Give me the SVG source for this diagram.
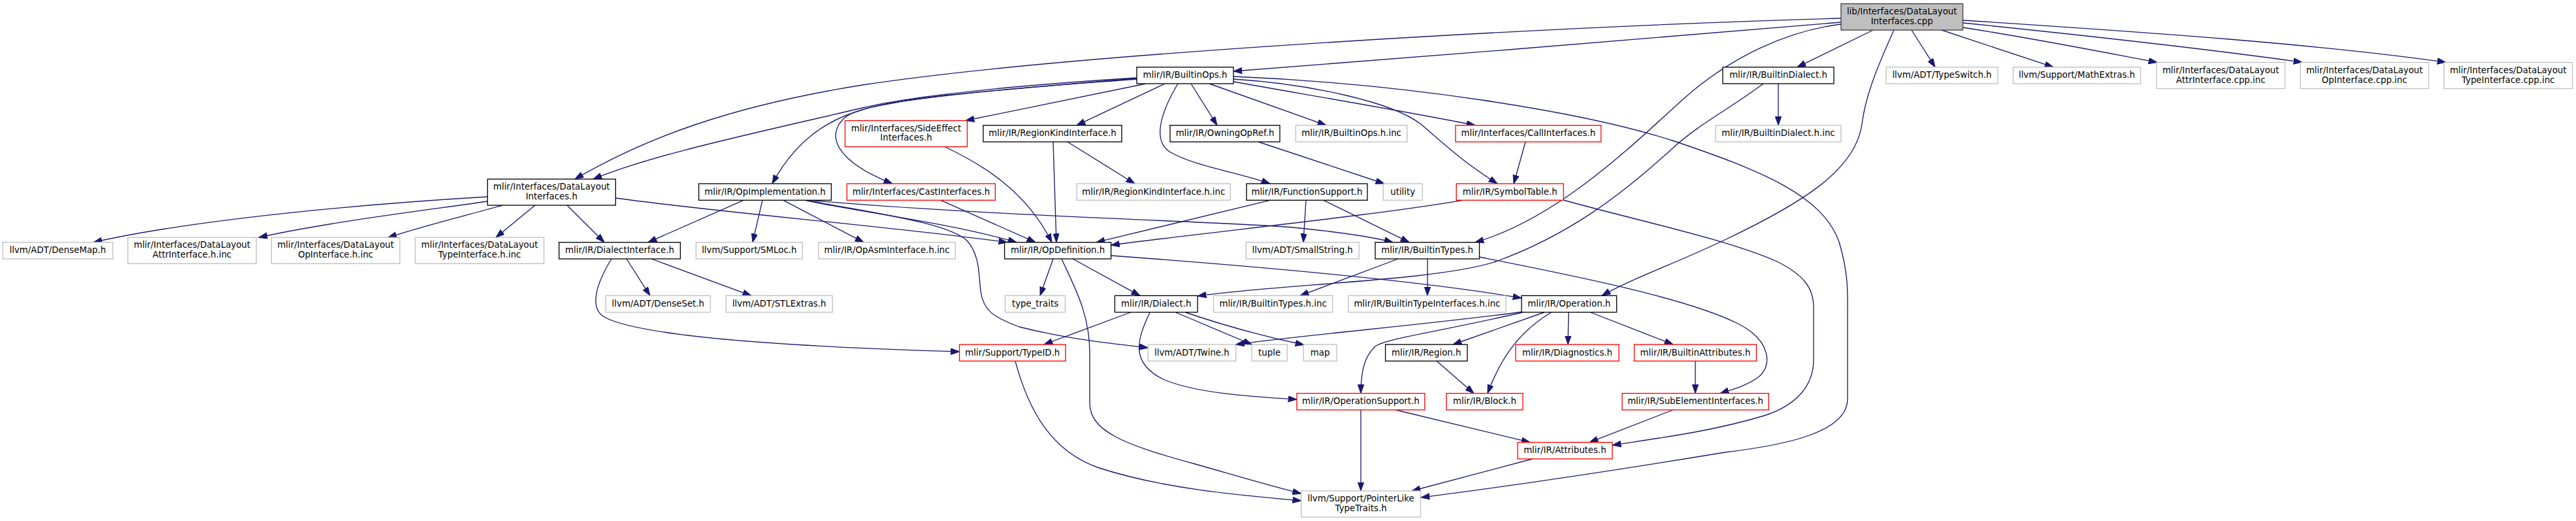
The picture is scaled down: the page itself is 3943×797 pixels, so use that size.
<svg xmlns="http://www.w3.org/2000/svg" width="3943" height="797" viewBox="0 0 3943 797">
<style>
rect{fill:#fff;stroke:#000;stroke-width:1.33}
.g rect{stroke:#bfbfbf}
.r rect{stroke:#f00}
.root rect{fill:#bfbfbf;stroke:#404040}
text{font-family:"DejaVu Sans","Liberation Sans",sans-serif;font-size:13.33px;text-anchor:middle;fill:#000}
.e path{fill:none;stroke:#191970;stroke-width:1.33;marker-end:url(#a)}
</style>
<defs>
<marker id="a" markerUnits="userSpaceOnUse" markerWidth="14" markerHeight="10" refX="13.3" refY="4.7" orient="auto">
<path d="M0,0 L13.3,4.7 L0,9.4 Z" fill="#191970" stroke="#191970" stroke-width="1"/>
</marker>
</defs>
<rect x="0" y="0" width="3943" height="797" style="fill:#fff;stroke:none"/>
<g id="edges" class="e">
<path d="M2818,28 C2400,40 1650,80 1320,130 C1120,162 990,210 880,274"/>
<path d="M2818,34 C2600,52 2150,90 1888,109"/>
<path d="M2818,37 C2730,48 2650,90 2590,140 C2530,190 2400,330 2258,370.7"/>
<path d="M2867,46 L2751,102.7"/>
<path d="M2899,46 C2870,110 2855,150 2850,190 C2840,260 2760,310 2640,367 C2560,405 2500,425 2452,452.3"/>
<path d="M2926,46 L2962,102.7"/>
<path d="M2972,46 L3143,102.7"/>
<path d="M3004.5,42 C3120,60 3220,80 3302,95.5"/>
<path d="M3004.5,35 C3200,55 3400,78 3524,95.3"/>
<path d="M3004.5,31 C3300,50 3550,68 3744,95.3"/>
<path d="M1740,119 C1550,131 1400,146 1320,165 C1150,205 1000,236 908,274"/>
<path d="M1740,120 C1530,137 1380,150 1320,168 C1260,185 1215,220 1182,281"/>
<path d="M1740,121 C1520,138 1330,150 1293,180 C1265,205 1275,245 1366,281"/>
<path d="M1754,128 L1478,184.5"/>
<path d="M1783,128 L1648,191.7"/>
<path d="M1803,128 C1775,175 1765,215 1790,232 C1830,255 1890,262 1944,281"/>
<path d="M1823,128 L1863,191.7"/>
<path d="M1851,128 L2030,191.7"/>
<path d="M1888,125 C2000,145 2150,170 2258,191.7"/>
<path d="M1888,121 C2000,128 2130,155 2175,190 C2205,215 2235,245 2292,281"/>
<path d="M1888,117 C2150,128 2420,170 2560,215 C2700,262 2790,300 2815,370 C2830,420 2828,450 2828,480 L2828,610 C2828,660 2740,680 2640,692 C2470,720 2300,745 2175,761"/>
<path d="M2722,128 L2722,191.7"/>
<path d="M2699,128 C2650,165 2600,190 2560,227 C2480,300 2400,360 2290,400 C2200,430 1950,435 1833,453"/>
<path d="M746,301 C560,312 300,335 143,370.7"/>
<path d="M746,308 C650,322 500,340 396,363.3"/>
<path d="M769,314 C720,328 650,345 594,363.3"/>
<path d="M819,314 L759,363.3"/>
<path d="M868,314 L925,370.7"/>
<path d="M943,303 C1100,325 1350,345 1542,370.7"/>
<path d="M1138,306.3 L992,370.7"/>
<path d="M1167,306.3 L1152,370.7"/>
<path d="M1199,306.3 L1322,370.7"/>
<path d="M1232,306.3 C1300,322 1450,340 1556,370.7"/>
<path d="M1235,306.3 C1330,325 1450,340 1480,368 C1500,390 1498,420 1501,445 C1505,475 1520,485 1560,500 C1640,520 1700,525 1757.3,532"/>
<path d="M1240,306.3 C1500,330 1900,340 1980,348 C2050,355 2100,362 2132,370.7"/>
<path d="M1440,306.3 L1585,370.7"/>
<path d="M1446,224.5 C1500,250 1570,290 1610,370.7"/>
<path d="M1612,217 L1617,370.7"/>
<path d="M1634,217 L1737,281"/>
<path d="M1926,217 L2119,281"/>
<path d="M1944,306.3 L1678,370.7"/>
<path d="M1999,306.3 L1995,370.7"/>
<path d="M2026,306.3 L2157,370.7"/>
<path d="M2335,217 L2317,281"/>
<path d="M2239,306.3 C2100,330 1850,355 1700.5,375"/>
<path d="M2393,306 C2500,336 2640,365 2720,400 C2760,420 2776,440 2776,470 L2776,550 C2776,590 2750,620 2700,636 C2620,660 2540,670 2468,681"/>
<path d="M2140,396 L1990,452.3"/>
<path d="M2185,396 L2185,452.3"/>
<path d="M2264,393 C2400,420 2580,455 2660,495 C2710,520 2715,560 2690,578 C2670,592 2650,596 2633,601.7"/>
<path d="M1612,396 L1592,452.3"/>
<path d="M1642,396 L1745,452.3"/>
<path d="M1625,396 C1645,440 1668,480 1668,540 L1668,616 C1668,660 1720,680 1830,710 C1900,730 1950,745 1991.8,755"/>
<path d="M1700.5,391 C1850,402 2150,425 2329,456"/>
<path d="M1730,478 L1598,527"/>
<path d="M1760,478 C1740,520 1730,555 1780,580 C1830,602 1920,607 1985,611"/>
<path d="M1800,478 L1916,527"/>
<path d="M1815,478 C1880,500 1950,518 1996,527.5"/>
<path d="M2330,477 C2200,495 2000,512 1891.6,527"/>
<path d="M2363,478 L2224,527"/>
<path d="M2374,478 C2330,505 2300,540 2277,601.7"/>
<path d="M2401,478 L2400,527"/>
<path d="M2435,478 L2561,527"/>
<path d="M2330,478 C2200,508 2120,518 2105,530 C2088,545 2083,570 2083,601.7"/>
<path d="M2199,552.3 L2256,601.7"/>
<path d="M2595,552.3 L2595,601.7"/>
<path d="M2561,627 L2433,676.7"/>
<path d="M2136,627 L2342,676.7"/>
<path d="M2083,627 L2083,751"/>
<path d="M2346,702 L2161,751"/>
<path d="M1554,552.3 C1575,630 1610,690 1680,715 C1780,748 1900,758 1991.8,766"/>
<path d="M936,396 C915,430 900,470 925,485 C980,515 1200,530 1468.6,538"/>
<path d="M959,396 L995,452.3"/>
<path d="M997,396 L1150,452.3"/>
</g>
<g id="n-root" class="root"><rect x="2818" y="5.7" width="186.5" height="40.3"/><text x="2911.2" y="21.8">lib/Interfaces/DataLayout</text><text x="2911.2" y="36.7">Interfaces.cpp</text></g>
<g id="n-builtinops"><rect x="1740" y="102.7" width="148" height="25.3"/><text x="1814" y="119.4">mlir/IR/BuiltinOps.h</text></g>
<g id="n-builtindialect"><rect x="2637" y="102.7" width="170" height="25.3"/><text x="2722" y="119.4">mlir/IR/BuiltinDialect.h</text></g>
<g id="n-typeswitch" class="g"><rect x="2887" y="102.7" width="171" height="25.3"/><text x="2972.5" y="119.4">llvm/ADT/TypeSwitch.h</text></g>
<g id="n-mathextras" class="g"><rect x="3081.5" y="102.7" width="195" height="25.3"/><text x="3179" y="119.4">llvm/Support/MathExtras.h</text></g>
<g id="n-attrcppinc" class="g"><rect x="3301" y="95.5" width="196.5" height="40"/><text x="3399.2" y="111.8">mlir/Interfaces/DataLayout</text><text x="3399.2" y="126.5">AttrInterface.cpp.inc</text></g>
<g id="n-opcppinc" class="g"><rect x="3521" y="95.5" width="196.5" height="40"/><text x="3619.2" y="111.8">mlir/Interfaces/DataLayout</text><text x="3619.2" y="126.5">OpInterface.cpp.inc</text></g>
<g id="n-typecppinc" class="g"><rect x="3741" y="95.5" width="196.5" height="40"/><text x="3839.2" y="111.8">mlir/Interfaces/DataLayout</text><text x="3839.2" y="126.5">TypeInterface.cpp.inc</text></g>
<g id="n-sideeffect" class="r"><rect x="1293.5" y="184.5" width="187" height="40"/><text x="1387" y="200.5">mlir/Interfaces/SideEffect</text><text x="1387" y="215.3">Interfaces.h</text></g>
<g id="n-regionkind"><rect x="1505" y="191.7" width="212" height="25.3"/><text x="1611" y="208.4">mlir/IR/RegionKindInterface.h</text></g>
<g id="n-owningopref"><rect x="1791" y="191.7" width="168" height="25.3"/><text x="1875" y="208.4">mlir/IR/OwningOpRef.h</text></g>
<g id="n-builtinopsinc" class="g"><rect x="1983.4" y="191.7" width="170.4" height="25.3"/><text x="2068.6" y="208.4">mlir/IR/BuiltinOps.h.inc</text></g>
<g id="n-callinterfaces" class="r"><rect x="2228" y="191.7" width="222.6" height="25.3"/><text x="2339.3" y="208.4">mlir/Interfaces/CallInterfaces.h</text></g>
<g id="n-builtindialectinc" class="g"><rect x="2626" y="191.7" width="192" height="25.3"/><text x="2722" y="208.4">mlir/IR/BuiltinDialect.h.inc</text></g>
<g id="n-datalayoutinterfaces"><rect x="746.3" y="274" width="196" height="40"/><text x="844.3" y="290">mlir/Interfaces/DataLayout</text><text x="844.3" y="305">Interfaces.h</text></g>
<g id="n-opimplementation"><rect x="1069.6" y="281" width="202.8" height="25.3"/><text x="1171" y="297.7">mlir/IR/OpImplementation.h</text></g>
<g id="n-castinterfaces" class="r"><rect x="1296.4" y="281" width="227" height="25.3"/><text x="1409.9" y="297.7">mlir/Interfaces/CastInterfaces.h</text></g>
<g id="n-regionkindinc" class="g"><rect x="1648.3" y="281" width="235" height="25.3"/><text x="1765.8" y="297.7">mlir/IR/RegionKindInterface.h.inc</text></g>
<g id="n-functionsupport"><rect x="1908" y="281" width="185" height="25.3"/><text x="2000.5" y="297.7">mlir/IR/FunctionSupport.h</text></g>
<g id="n-utility" class="g"><rect x="2117.2" y="281" width="60" height="25.3"/><text x="2147.2" y="297.7">utility</text></g>
<g id="n-symboltable" class="r"><rect x="2229.2" y="281" width="164" height="25.3"/><text x="2311.2" y="297.7">mlir/IR/SymbolTable.h</text></g>
<g id="n-densemap" class="g"><rect x="4.2" y="370.7" width="168.4" height="25.3"/><text x="88.4" y="387.4">llvm/ADT/DenseMap.h</text></g>
<g id="n-attrhinc" class="g"><rect x="195.7" y="363.3" width="196.6" height="40"/><text x="294" y="379.3">mlir/Interfaces/DataLayout</text><text x="294" y="394.3">AttrInterface.h.inc</text></g>
<g id="n-ophinc" class="g"><rect x="415.5" y="363.3" width="196.5" height="40"/><text x="513.7" y="379.3">mlir/Interfaces/DataLayout</text><text x="513.7" y="394.3">OpInterface.h.inc</text></g>
<g id="n-typehinc" class="g"><rect x="635.6" y="363.3" width="197" height="40"/><text x="734.1" y="379.3">mlir/Interfaces/DataLayout</text><text x="734.1" y="394.3">TypeInterface.h.inc</text></g>
<g id="n-dialectinterface"><rect x="855.7" y="370.7" width="185.7" height="25.3"/><text x="948.5" y="387.4">mlir/IR/DialectInterface.h</text></g>
<g id="n-smloc" class="g"><rect x="1065.4" y="370.7" width="162.8" height="25.3"/><text x="1146.8" y="387.4">llvm/Support/SMLoc.h</text></g>
<g id="n-opasminc" class="g"><rect x="1253" y="370.7" width="209.3" height="25.3"/><text x="1357.6" y="387.4">mlir/IR/OpAsmInterface.h.inc</text></g>
<g id="n-opdefinition"><rect x="1537.6" y="370.7" width="163" height="25.3"/><text x="1619.1" y="387.4">mlir/IR/OpDefinition.h</text></g>
<g id="n-smallstring" class="g"><rect x="1907.2" y="370.7" width="173" height="25.3"/><text x="1993.7" y="387.4">llvm/ADT/SmallString.h</text></g>
<g id="n-builtintypes"><rect x="2105" y="370.7" width="159.5" height="25.3"/><text x="2184.7" y="387.4">mlir/IR/BuiltinTypes.h</text></g>
<g id="n-denseset" class="g"><rect x="927.3" y="452.3" width="160" height="25.3"/><text x="1007.3" y="469">llvm/ADT/DenseSet.h</text></g>
<g id="n-stlextras" class="g"><rect x="1111.2" y="452.3" width="163" height="25.3"/><text x="1192.7" y="469">llvm/ADT/STLExtras.h</text></g>
<g id="n-typetraits" class="g"><rect x="1538.5" y="452.3" width="92" height="25.3"/><text x="1584.5" y="469">type_traits</text></g>
<g id="n-dialect"><rect x="1706.4" y="452.3" width="126.7" height="25.3"/><text x="1769.7" y="469">mlir/IR/Dialect.h</text></g>
<g id="n-builtintypesinc" class="g"><rect x="1857.5" y="452.3" width="182.3" height="25.3"/><text x="1948.6" y="469">mlir/IR/BuiltinTypes.h.inc</text></g>
<g id="n-builtintypeinterfacesinc" class="g"><rect x="2063.8" y="452.3" width="241.2" height="25.3"/><text x="2184.4" y="469">mlir/IR/BuiltinTypeInterfaces.h.inc</text></g>
<g id="n-operation"><rect x="2329" y="452.3" width="145.6" height="25.3"/><text x="2401.8" y="469">mlir/IR/Operation.h</text></g>
<g id="n-typeid" class="r"><rect x="1468.6" y="527" width="162.4" height="25.3"/><text x="1549.8" y="543.7">mlir/Support/TypeID.h</text></g>
<g id="n-twine" class="g"><rect x="1757.3" y="527" width="134.3" height="25.3"/><text x="1824.4" y="543.7">llvm/ADT/Twine.h</text></g>
<g id="n-tuple" class="g"><rect x="1916" y="527" width="54.3" height="25.3"/><text x="1943.1" y="543.7">tuple</text></g>
<g id="n-map" class="g"><rect x="1995.2" y="527" width="50.8" height="25.3"/><text x="2020.6" y="543.7">map</text></g>
<g id="n-region"><rect x="2120.6" y="527" width="125.4" height="25.3"/><text x="2183.3" y="543.7">mlir/IR/Region.h</text></g>
<g id="n-diagnostics" class="r"><rect x="2320" y="527" width="158" height="25.3"/><text x="2399" y="543.7">mlir/IR/Diagnostics.h</text></g>
<g id="n-builtinattributes" class="r"><rect x="2501.5" y="527" width="187" height="25.3"/><text x="2595" y="543.7">mlir/IR/BuiltinAttributes.h</text></g>
<g id="n-operationsupport" class="r"><rect x="1985" y="601.7" width="195.8" height="25.3"/><text x="2082.9" y="618.4">mlir/IR/OperationSupport.h</text></g>
<g id="n-block" class="r"><rect x="2214" y="601.7" width="117" height="25.3"/><text x="2272.5" y="618.4">mlir/IR/Block.h</text></g>
<g id="n-subelement" class="r"><rect x="2483" y="601.7" width="224.3" height="25.3"/><text x="2595.1" y="618.4">mlir/IR/SubElementInterfaces.h</text></g>
<g id="n-attributes" class="r"><rect x="2323" y="676.7" width="144.8" height="25.3"/><text x="2395.4" y="693.4">mlir/IR/Attributes.h</text></g>
<g id="n-pointerlike" class="g"><rect x="1991.8" y="751" width="182.7" height="40"/><text x="2083.1" y="767">llvm/Support/PointerLike</text><text x="2083.1" y="782">TypeTraits.h</text></g>
</svg>
